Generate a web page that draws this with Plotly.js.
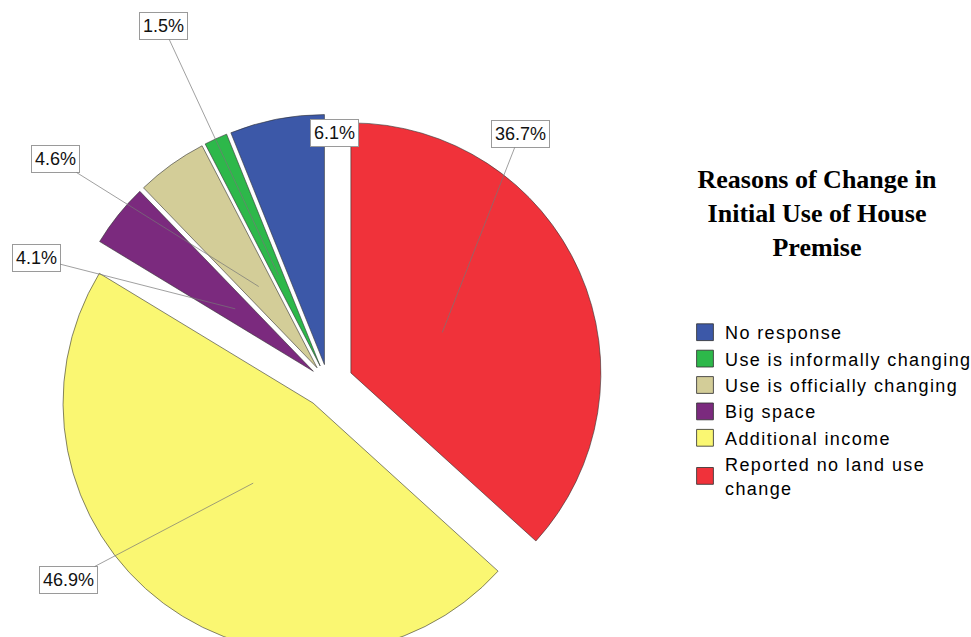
<!DOCTYPE html>
<html>
<head>
<meta charset="utf-8">
<script src="https://cdn.plot.ly/plotly-3.0.1.min.js"></script>
<style>
  html, body { margin: 0; padding: 0; overflow: hidden; background: #fff; }
  #wrap { width: 971px; height: 637px; overflow: hidden; }
  #chart { width: 971px; height: 660px; }
</style>
</head>
<body>
<div id="wrap"><div id="chart"></div></div>
<script>
// ---- data ----
const categories = [
  'No response',
  'Use is informally changing',
  'Use is officially changing',
  'Big space',
  'Additional income',
  'Reported no land use change'
];
const legendLabels = [
  'No response',
  'Use is informally changing',
  'Use is officially changing',
  'Big space',
  'Additional income',
  'Reported no land use<br>change'
];
const percents = [6.1, 1.5, 4.6, 4.1, 46.9, 36.7];

// ---- style / layout ----
const colors = ['#3C58A8', '#2DB84A', '#D3CD98', '#7B2A7E', '#FAF772', '#F0323A'];
const pulls = [0.075, 0.075, 0.075, 0.075, 0.1, 0.1];
const W = 971, H = 660;
const cx = 328, cy = 383, R = 250;
const maxPull = Math.max(...pulls);
const half = R * (1 + maxPull);
// label box centres (pixels) and whether a leader line is drawn
const labelPos = [[334, 133], [163, 26], [55, 159], [36, 258], [69, 580], [520, 134]];
const showLeader = [false, true, true, true, true, true];

const total = percents.reduce((a, b) => a + b, 0);
// first slice (No response) must start at 12 o'clock and run counterclockwise
const rotation = -percents[0] / total * 360;

let cum = 0;
const annotations = [];
percents.forEach((v, i) => {
  const a0 = cum / total * 2 * Math.PI;
  cum += v;
  const a1 = cum / total * 2 * Math.PI;
  const m = (a0 + a1) / 2; // counterclockwise from 12 o'clock
  const dx = -Math.sin(m), dy = -Math.cos(m);
  const vx = cx + pulls[i] * R * dx, vy = cy + pulls[i] * R * dy;
  const axp = vx + 0.4 * R * dx, ayp = vy + 0.4 * R * dy;
  const [lx, ly] = labelPos[i];
  const base = {
    text: v.toFixed(1) + '%',
    xref: 'paper', yref: 'paper',
    font: {family: 'Liberation Sans, Arial, sans-serif', size: 18, color: '#111'},
    bgcolor: '#ffffff', bordercolor: '#9a9a9a', borderwidth: 1, borderpad: 3
  };
  if (showLeader[i]) {
    annotations.push(Object.assign(base, {
      x: axp / W, y: 1 - ayp / H,
      showarrow: true, arrowhead: 0, arrowwidth: 0.7, arrowcolor: '#777', standoff: 0,
      axref: 'pixel', ayref: 'pixel', ax: lx - axp, ay: ly - ayp
    }));
  } else {
    annotations.push(Object.assign(base, {
      x: lx / W, y: 1 - ly / H, xanchor: 'center', yanchor: 'middle', showarrow: false
    }));
  }
});

const trace = {
  type: 'pie',
  labels: legendLabels,
  values: percents,
  sort: false,
  direction: 'counterclockwise',
  rotation: rotation,
  pull: pulls,
  textinfo: 'none',
  hoverinfo: 'label+percent',
  marker: {colors: colors, line: {color: '#333333', width: 0.6}},
  domain: {x: [(cx - half) / W, (cx + half) / W], y: [(H - (cy + half)) / H, (H - (cy - half)) / H]}
};

const layout = {
  width: W, height: H,
  margin: {l: 0, r: 0, t: 0, b: 0},
  paper_bgcolor: '#ffffff',
  showlegend: true,
  title: {
    text: '<b>Reasons of Change in<br>Initial Use of House<br>Premise</b>',
    font: {family: 'Liberation Serif, Times New Roman, serif', size: 26, color: '#000'},
    x: 817 / W, xanchor: 'center', xref: 'container',
    y: 1 - 188 / H, yanchor: 'middle', yref: 'container'
  },
  legend: {
    x: 685 / W, xanchor: 'left',
    y: 1 - 314 / H, yanchor: 'top',
    font: {family: 'Liberation Sans, Arial, sans-serif', size: 18, color: '#000'},
    bgcolor: 'rgba(0,0,0,0)', itemwidth: 30, valign: 'middle'
  },
  annotations: annotations
};

Plotly.newPlot('chart', [trace], layout, {displayModeBar: false, staticPlot: true}).then(() => {
  document.querySelectorAll('.legendpoints path').forEach(p => {
    const t = p.getAttribute('transform') || '';
    p.setAttribute('transform', t + ' scale(1.4)');
  });
  document.querySelectorAll('.legendtext').forEach(t => {
    t.style.letterSpacing = '1.4px';
  });
  document.querySelectorAll('.legend .scrollbox, .legend').forEach(e => {
    e.removeAttribute('clip-path');
    e.style.clipPath = 'none';
  });
});
</script>
</body>
</html>
